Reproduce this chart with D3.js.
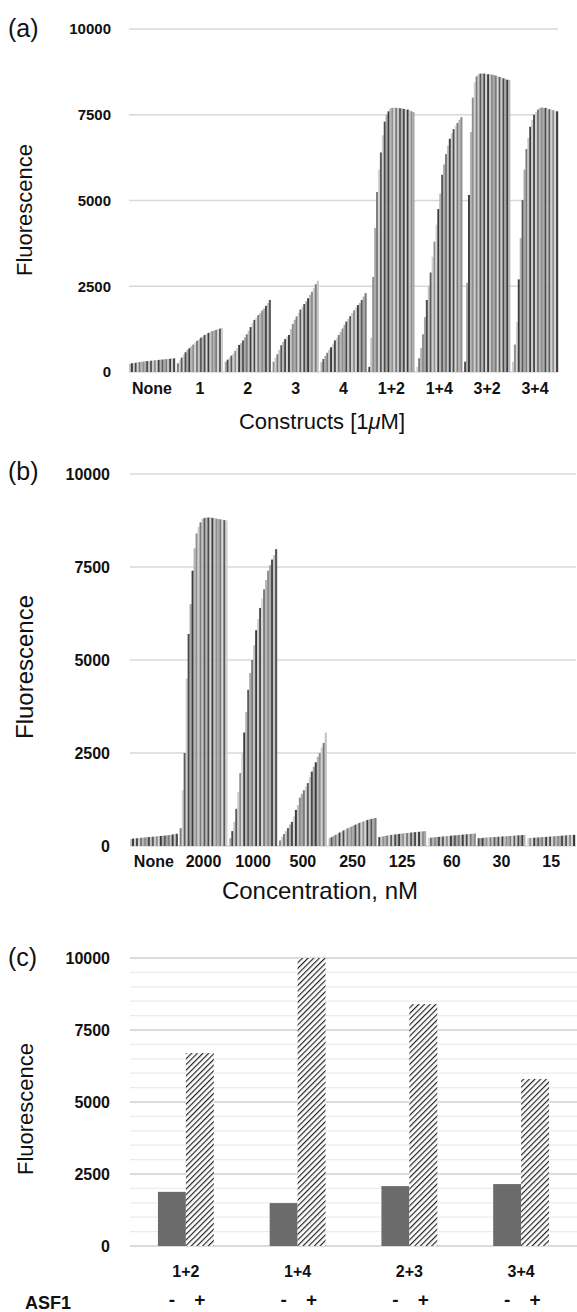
<!doctype html>
<html>
<head>
<script src="https://cdn.jsdelivr.net/npm/d3@7"></script>
<style>
  body { margin: 0; background: #fff; }
  svg { display: block; }
</style>
</head>
<body>
<svg width="577" height="1312"></svg>
<script>
// values, one array of bars (time points) per group

const yTicks = [0, 2500, 5000, 7500, 10000];

// (a) constructs at 1uM
const constructLabels = ["None", "1", "2", "3", "4", "1+2", "1+4", "3+2", "3+4"];
const constructTraces = [
  [240, 255, 262, 270, 280, 290, 298, 305, 310, 318, 325, 330, 336, 342, 348, 353, 358, 363, 368, 374, 380, 386, 392, 398],
  [253, 340, 420, 500, 575, 640, 690, 750, 800, 850, 910, 950, 1000, 1035, 1080, 1110, 1140, 1170, 1195, 1210, 1230, 1250, 1265, 1290],
  [300, 360, 420, 480, 540, 620, 700, 790, 840, 920, 1010, 1100, 1200, 1310, 1430, 1520, 1590, 1660, 1720, 1790, 1850, 1930, 2010, 2100],
  [300, 420, 520, 650, 780, 880, 960, 1030, 1080, 1250, 1400, 1520, 1620, 1720, 1820, 1900, 1980, 2060, 2150, 2250, 2340, 2450, 2560, 2660],
  [290, 380, 470, 560, 650, 720, 820, 920, 990, 1080, 1170, 1270, 1380, 1470, 1550, 1630, 1720, 1800, 1870, 1950, 2010, 2100, 2200, 2300],
  [150, 1000, 2770, 4200, 5250, 5900, 6400, 6900, 7300, 7500, 7600, 7680, 7700, 7710, 7700, 7700, 7690, 7680, 7670, 7660, 7650, 7630, 7600, 7580],
  [150, 400, 700, 1100, 1600, 2100, 2500, 2900, 3360, 3800, 4300, 4750, 5200, 5750, 6050, 6350, 6600, 6800, 6960, 7080, 7180, 7260, 7350, 7430],
  [300, 2600, 5160, 7000, 8000, 8450, 8620, 8680, 8700, 8700, 8700, 8690, 8680, 8680, 8670, 8660, 8640, 8620, 8600, 8580, 8560, 8540, 8520, 8510],
  [300, 800, 1460, 2700, 3900, 5010, 5900, 6500, 6820, 7150, 7350, 7500, 7580, 7650, 7700, 7710, 7700, 7700, 7680, 7660, 7650, 7630, 7610, 7600]
];

// (b) concentration series, nM
const concLabels = ["None", "2000", "1000", "500", "250", "125", "60", "30", "15"];
const concTraces = [
  [190, 198, 205, 208, 215, 222, 226, 230, 236, 240, 246, 250, 254, 260, 266, 270, 276, 280, 286, 292, 300, 310, 318, 330],
  [480, 1500, 2500, 4500, 5700, 6500, 7400, 8000, 8400, 8580, 8700, 8790, 8820, 8830, 8830, 8830, 8820, 8810, 8800, 8790, 8780, 8770, 8760, 8750],
  [210, 400, 650, 1000, 1450, 1960, 2500, 3050, 3600, 4200, 4650, 5000, 5400, 5800, 6100, 6400, 6650, 6900, 7150, 7400, 7550, 7700, 7820, 7980],
  [150, 250, 320, 400, 480, 580, 650, 800, 970, 1100, 1300, 1400, 1500, 1600, 1690, 1850, 2000, 2130, 2250, 2400, 2500, 2650, 2770, 3050],
  [210, 238, 272, 300, 328, 362, 390, 418, 450, 476, 500, 522, 550, 574, 598, 620, 642, 660, 678, 700, 716, 728, 740, 752],
  [240, 252, 258, 270, 282, 288, 298, 306, 312, 318, 326, 332, 338, 346, 350, 356, 362, 366, 372, 376, 382, 388, 394, 400],
  [220, 224, 231, 236, 240, 246, 250, 256, 262, 266, 270, 276, 280, 286, 290, 296, 300, 305, 310, 316, 320, 326, 330, 336],
  [210, 214, 218, 222, 226, 230, 234, 238, 240, 244, 248, 252, 256, 258, 262, 266, 270, 274, 278, 282, 286, 290, 295, 300],
  [210, 215, 218, 223, 226, 230, 233, 238, 242, 246, 250, 253, 258, 262, 265, 270, 274, 278, 282, 286, 290, 294, 297, 300]
];

// (c) pairs with / without ASF1
const pairLabels = ["1+2", "1+4", "2+3", "3+4"];
const asfLabels = ["-", "+"];
const withoutAsf = [1880, 1490, 2080, 2150];
const withAsf = [6700, 10000, 8400, 5800];

const stripeGrays = ["#c4c4c4", "#8e8e8e", "#d6d6d6", "#5a5a5a", "#a9a9a9", "#3c3c3c", "#cfcfcf", "#7a7a7a", "#b5b5b5", "#4a4a4a"];

const svg = d3.select("svg");
const sans = "'Liberation Sans', Arial, sans-serif";
const tickFont = "'Liberation Sans', Arial, sans-serif";

function yAxisLabels(g, y, x0, rightEdge, size) {
  const ax = g.append("g")
    .attr("transform", "translate(" + x0 + ",0)")
    .call(d3.axisLeft(y).tickValues(yTicks).tickSize(0).tickPadding(x0 - rightEdge).tickFormat(d3.format("d")));
  ax.select(".domain").remove();
  ax.selectAll("text").style("font-family", tickFont).style("font-weight", 700).style("font-size", size + "px").attr("fill", "#111");
}

function tracePanel(o) {
  const g = svg.append("g");
  const y = d3.scaleLinear().domain([0, 10000]).range([o.yb, o.yt]);
  const x = d3.scaleBand().domain(o.labels).range([o.x0, o.x1]).paddingInner(0.04).paddingOuter(0.0);

  g.selectAll("line.grid").data(yTicks).join("line")
    .attr("class", "grid")
    .attr("x1", o.x0).attr("x2", o.gx1)
    .attr("y1", d => y(d)).attr("y2", d => y(d))
    .attr("stroke", "#d8d8d8").attr("stroke-width", 1.5);

  o.traces.forEach((vals, gi) => {
    const left = x(o.labels[gi]);
    const xi = d3.scaleBand().domain(d3.range(vals.length)).range([left, left + x.bandwidth()]);
    g.append("g").selectAll("rect").data(vals).join("rect")
      .attr("x", (d, i) => xi(i))
      .attr("width", xi.bandwidth() + 0.2)
      .attr("y", d => y(d))
      .attr("height", d => y(0) - y(d))
      .attr("fill", (d, i) => stripeGrays[(i * 3 + gi * 7 + (i % 4 === 1 ? 2 : 0)) % stripeGrays.length]);
  });

  yAxisLabels(g, y, o.x0, o.tickRight, o.tickSize);

  const xa = g.append("g")
    .attr("transform", "translate(0," + y(0) + ")")
    .call(d3.axisBottom(x).tickSize(0).tickPadding(o.catPad));
  xa.select(".domain").remove();
  xa.selectAll("text").style("font-family", tickFont).style("font-weight", 700).style("font-size", o.catSize + "px").attr("fill", "#111");

  g.append("text").attr("x", 8).attr("y", o.tagY).text(o.tag)
    .style("font-family", sans).style("font-size", "25px").attr("fill", "#111");

  g.append("text")
    .attr("transform", "translate(" + o.yTitleX + "," + o.yTitleY + ") rotate(-90)")
    .attr("text-anchor", "middle")
    .style("font-family", sans).style("font-size", o.yTitleSize + "px").attr("fill", "#111")
    .text("Fluorescence");

  const t = g.append("text").attr("x", o.titleX).attr("y", o.titleY).attr("text-anchor", "middle")
    .style("font-family", sans).style("font-size", o.titleSize + "px").attr("fill", "#111");
  o.title.forEach(part => {
    t.append("tspan").text(part.s).style("font-style", part.it ? "italic" : "normal");
  });
}

tracePanel({
  labels: constructLabels, traces: constructTraces,
  x0: 129, x1: 558, gx1: 558, yb: 372, yt: 29,
  tickRight: 111, tickSize: 15, catSize: 16, catPad: 11,
  tag: "(a)", tagY: 37,
  yTitleX: 32, yTitleY: 210, yTitleSize: 22,
  title: [{s: "Constructs [1"}, {s: "\u03bc", it: true}, {s: "M]"}],
  titleX: 322, titleY: 429, titleSize: 22
});

tracePanel({
  labels: concLabels, traces: concTraces,
  x0: 130, x1: 575, gx1: 576, yb: 846, yt: 474,
  tickRight: 110, tickSize: 16, catSize: 16, catPad: 10,
  tag: "(b)", tagY: 480,
  yTitleX: 33, yTitleY: 667, yTitleSize: 24,
  title: [{s: "Concentration, nM"}],
  titleX: 320, titleY: 899, titleSize: 24
});

// (c) grouped bars
(function () {
  const g = svg.append("g");
  const y = d3.scaleLinear().domain([0, 10000]).range([1246, 958]);
  const x = d3.scaleBand().domain(pairLabels).range([130, 577]).paddingInner(0.5).paddingOuter(0.25);
  const xi = d3.scaleBand().domain(asfLabels).range([0, x.bandwidth()]);

  const defs = svg.append("defs");
  const pat = defs.append("pattern").attr("id", "hatch").attr("patternUnits", "userSpaceOnUse")
    .attr("width", 4).attr("height", 4).attr("patternTransform", "rotate(45)");
  pat.append("rect").attr("width", 4).attr("height", 4).attr("fill", "#fff");
  pat.append("line").attr("x1", 0).attr("y1", 0).attr("x2", 0).attr("y2", 4)
    .attr("stroke", "#262626").attr("stroke-width", 2.4);

  g.selectAll("line.minor").data(d3.range(0, 10001, 500)).join("line")
    .attr("x1", 130).attr("x2", 577)
    .attr("y1", d => y(d)).attr("y2", d => y(d))
    .attr("stroke", d => d % 2500 === 0 ? "#cfcfcf" : "#ebebeb")
    .attr("stroke-width", d => d % 2500 === 0 ? 1.5 : 1.2);

  const rows = pairLabels.map((p, i) => ({p, vals: [withoutAsf[i], withAsf[i]]}));
  const grp = g.selectAll("g.pair").data(rows).join("g")
    .attr("transform", d => "translate(" + x(d.p) + ",0)");
  grp.selectAll("rect").data(d => d.vals.map((v, k) => ({k: asfLabels[k], v}))).join("rect")
    .attr("x", d => xi(d.k))
    .attr("width", xi.bandwidth())
    .attr("y", d => y(d.v))
    .attr("height", d => y(0) - y(d.v))
    .attr("fill", d => d.k === "-" ? "#6b6b6b" : "url(#hatch)");

  yAxisLabels(g, y, 130, 110, 16);

  const xa = g.append("g").attr("transform", "translate(0," + y(0) + ")")
    .call(d3.axisBottom(x).tickSize(0).tickPadding(20));
  xa.select(".domain").remove();
  xa.selectAll("text").style("font-family", tickFont).style("font-weight", 700).style("font-size", "16px").attr("fill", "#111");

  grp.selectAll("text.asf").data(asfLabels).join("text")
    .attr("class", "asf")
    .attr("x", d => xi(d) + xi.bandwidth() / 2)
    .attr("y", 1306)
    .attr("text-anchor", "middle")
    .style("font-family", tickFont).style("font-weight", 700).style("font-size", "19px").attr("fill", "#111")
    .text(d => d);

  g.append("text").attr("x", 25).attr("y", 1309).text("ASF1")
    .style("font-family", tickFont).style("font-weight", 700).style("font-size", "18px").attr("fill", "#111");

  g.append("text").attr("x", 8).attr("y", 966).text("(c)")
    .style("font-family", sans).style("font-size", "25px").attr("fill", "#111");

  g.append("text")
    .attr("transform", "translate(33,1109) rotate(-90)")
    .attr("text-anchor", "middle")
    .style("font-family", sans).style("font-size", "22px").attr("fill", "#111")
    .text("Fluorescence");
})();
</script>
</body>
</html>
